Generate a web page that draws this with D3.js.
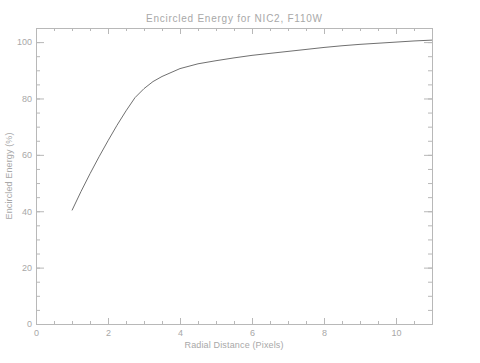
<!DOCTYPE html>
<html>
<head>
<meta charset="utf-8">
<script src="https://cdn.jsdelivr.net/npm/d3@7"></script>
<style>
  body { margin: 0; background: #fff; }
  text { font-family: "Liberation Sans", Arial, sans-serif; fill: #a8a8a8; }
</style>
</head>
<body>
<div id="chart"></div>
<script>
// plot size and box position (IDL style)
const width = 480;
const height = 363;
const margin = {left: 36, right: 48, top: 28, bottom: 39};

// encircled energy curve
const radius = [1, 1.25, 1.5, 1.75, 2, 2.25, 2.5, 2.75, 3, 3.25, 3.5, 4, 4.5, 5, 5.5,
                6, 6.5, 7, 7.5, 8, 8.5, 9, 9.5, 10, 10.5, 11];
const energy = [40.3, 47, 53.3, 59.3, 65, 70.5, 75.6, 80.3, 83.5, 86, 87.8, 90.6, 92.3, 93.4, 94.4,
                95.3, 96.0, 96.7, 97.4, 98.1, 98.7, 99.2, 99.6, 100.0, 100.4, 100.7];

const xTicks = [0, 2, 4, 6, 8, 10];
const yTicks = [0, 20, 40, 60, 80, 100];

const svg = d3.select("#chart")
  .append("svg")
  .attr("width", width)
  .attr("height", height);

// scales
const x = d3.scaleLinear().domain([0, 11]).range([margin.left, width - margin.right]);
const y = d3.scaleLinear().domain([0, 105]).range([height - margin.bottom, margin.top]);

const axisColor = "#b8b8b8";
const xMinor = d3.range(0, 11.01, 0.5);
const yMinor = d3.range(0, 105.01, 5);

function styleAxis(g) {
  g.select(".domain").attr("stroke", axisColor);
  g.selectAll(".tick line").attr("stroke", axisColor);
  g.selectAll(".tick text").attr("fill", "#a8a8a8").attr("font-size", "9px")
    .attr("font-family", "Liberation Sans, Arial, sans-serif");
}

// bottom axis, with labels
svg.append("g")
  .attr("transform", `translate(0,${height - margin.bottom})`)
  .call(d3.axisBottom(x).tickValues(xMinor).tickSize(-3).tickSizeOuter(0).tickFormat(""))
  .call(styleAxis);
svg.append("g")
  .attr("transform", `translate(0,${height - margin.bottom})`)
  .call(d3.axisBottom(x).tickValues(xTicks).tickSize(-6).tickSizeOuter(0).tickPadding(6))
  .call(styleAxis);

// top axis, ticks only
svg.append("g")
  .attr("transform", `translate(0,${margin.top})`)
  .call(d3.axisTop(x).tickValues(xMinor).tickSize(-3).tickSizeOuter(0).tickFormat(""))
  .call(styleAxis);
svg.append("g")
  .attr("transform", `translate(0,${margin.top})`)
  .call(d3.axisTop(x).tickValues(xTicks).tickSize(-6).tickSizeOuter(0).tickFormat(""))
  .call(styleAxis);

// left axis, with labels
svg.append("g")
  .attr("transform", `translate(${margin.left},0)`)
  .call(d3.axisLeft(y).tickValues(yMinor).tickSize(-4).tickSizeOuter(0).tickFormat(""))
  .call(styleAxis);
svg.append("g")
  .attr("transform", `translate(${margin.left},0)`)
  .call(d3.axisLeft(y).tickValues(yTicks).tickSize(-8).tickSizeOuter(0).tickPadding(4))
  .call(styleAxis);

// right axis, ticks only
svg.append("g")
  .attr("transform", `translate(${width - margin.right},0)`)
  .call(d3.axisRight(y).tickValues(yMinor).tickSize(-4).tickSizeOuter(0).tickFormat(""))
  .call(styleAxis);
svg.append("g")
  .attr("transform", `translate(${width - margin.right},0)`)
  .call(d3.axisRight(y).tickValues(yTicks).tickSize(-8).tickSizeOuter(0).tickFormat(""))
  .call(styleAxis);

// the curve
const pts = radius.map((r, i) => ({r: r, e: energy[i]}));
svg.append("path")
  .datum(pts)
  .attr("fill", "none")
  .attr("stroke", "#707070")
  .attr("stroke-width", 1)
  .attr("d", d3.line().x(d => x(d.r)).y(d => y(d.e)));

// titles
const cx = (margin.left + width - margin.right) / 2;
svg.append("text")
  .attr("x", cx).attr("y", 22)
  .attr("text-anchor", "middle")
  .attr("font-size", "10px")
  .attr("textLength", 176)
  .text("Encircled Energy for NIC2, F110W");

svg.append("text")
  .attr("x", cx).attr("y", 348)
  .attr("text-anchor", "middle")
  .attr("font-size", "9px")
  .attr("textLength", 99)
  .text("Radial Distance (Pixels)");

svg.append("text")
  .attr("transform", `translate(12,${(margin.top + height - margin.bottom) / 2}) rotate(-90)`)
  .attr("text-anchor", "middle")
  .attr("font-size", "9px")
  .attr("textLength", 87)
  .text("Encircled Energy (%)");
</script>
</body>
</html>
